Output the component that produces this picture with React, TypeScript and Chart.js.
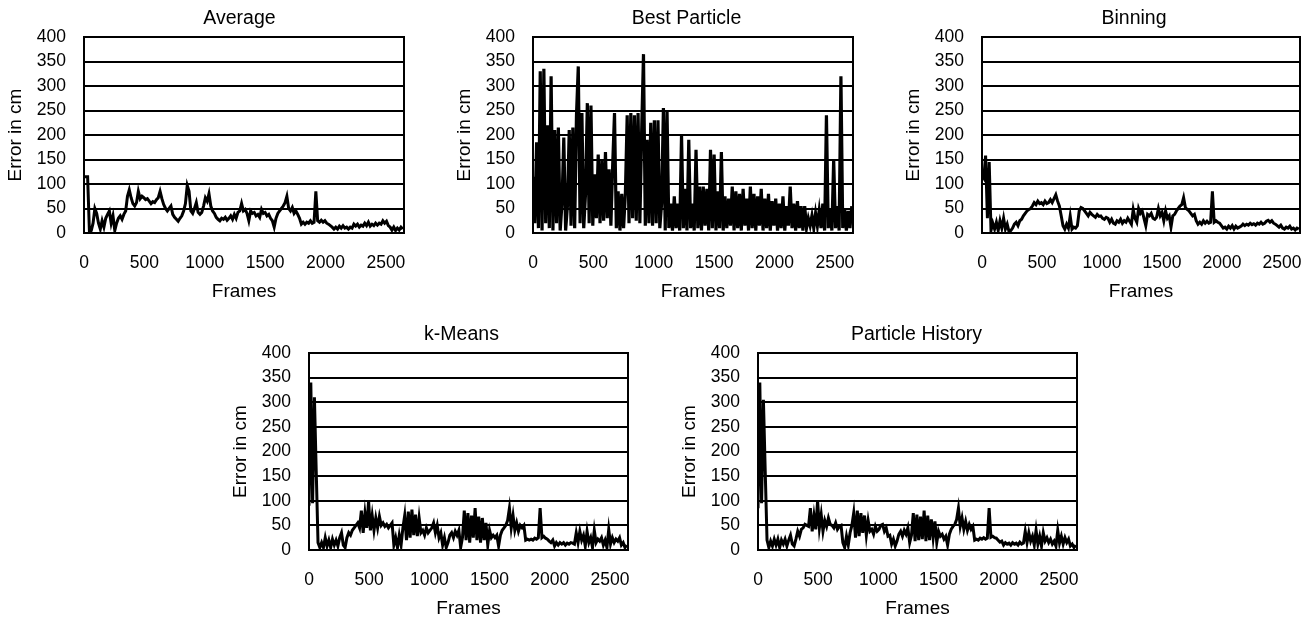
import React, { useEffect, useRef } from 'react';
import { Chart, registerables } from 'chart.js';

Chart.register(...registerables);

// ---- data ----
const FRAME_STEP = 15; // frames between samples
const X_MAX = 2650;
const Y_MAX = 400;
const X_TICKS = [0, 500, 1000, 1500, 2000, 2500];
const Y_TICKS = [0, 50, 100, 150, 200, 250, 300, 350, 400];
const X_LABEL = 'Frames';
const Y_LABEL = 'Error in cm';

const AVERAGE = [
  115, 115, 115, 2, 5, 20, 50, 40, 20, 8,
  25, 12, 30, 38, 45, 20, 35, 5, 20, 30,
  35, 28, 38, 45, 75, 88, 72, 60, 55, 62,
  85, 70, 75, 72, 68, 70, 65, 60, 64, 62,
  68, 72, 85, 70, 58, 50, 45, 50, 55, 38,
  32, 28, 24, 30, 35, 45, 60, 97, 85, 45,
  40, 50, 62, 42, 38, 42, 55, 72, 65, 80,
  55, 45, 40, 32, 28, 25, 30, 28, 32, 26,
  30, 35, 28, 38, 30, 42, 45, 60, 45, 48,
  40, 25, 45, 40, 42, 35, 38, 32, 48, 40,
  42, 35, 38, 30, 25, 12, 30, 40, 45, 50,
  55, 62, 75, 50, 45, 52, 40, 45, 38, 30,
  18, 22, 18, 22, 20, 25, 20, 22, 85, 25,
  22, 26, 22, 25, 20, 18, 15, 12, 8, 12,
  8, 14, 10, 15, 10, 12, 8, 12, 10, 18,
  14, 18, 12, 16, 14, 20, 15, 22, 14, 18,
  15, 20, 16, 20, 18, 25, 20, 24, 15, 12,
  6, 12, 5, 10, 6, 12, 8,
];

const BEST_PARTICLE = [
  115, 20, 185, 10, 330, 5, 335, 20, 220, 10,
  320, 5, 210, 20, 215, 5, 60, 195, 5, 55,
  210, 15, 215, 10, 240, 340, 20, 245, 10, 80,
  265, 20, 260, 15, 120, 30, 160, 20, 150, 25,
  165, 30, 130, 15, 140, 245, 10, 85, 5, 80,
  10, 80, 240, 20, 245, 30, 240, 25, 245, 20,
  210, 365, 15, 190, 20, 225, 15, 230, 20, 230,
  10, 60, 255, 5, 250, 10, 60, 5, 75, 10,
  60, 5, 200, 10, 90, 5, 190, 10, 60, 5,
  170, 10, 95, 5, 95, 15, 90, 5, 170, 10,
  160, 5, 85, 10, 165, 5, 75, 10, 70, 15,
  95, 5, 85, 10, 80, 5, 90, 15, 70, 5,
  95, 10, 80, 5, 75, 15, 90, 5, 70, 10,
  80, 5, 65, 15, 70, 5, 60, 10, 75, 5,
  55, 15, 95, 10, 60, 5, 65, 10, 55, 5,
  55, 10, 30, 15, 35, 10, 40, 15, 45, 10,
  60, 5, 240, 10, 50, 5, 150, 10, 55, 5,
  320, 10, 50, 5, 45, 10, 55,
];

const BINNING = [
  118, 112, 158, 30, 145, 5, 20, 8, 22, 5,
  25, 10, 30, 8, 18, 3, 5, 10, 18, 22,
  15, 25, 28, 35, 40, 45, 48, 50, 55, 62,
  58, 65, 60, 62, 58, 65, 60, 62, 68, 62,
  70, 78, 65, 55, 35, 15, 8, 18, 10, 35,
  8, 12, 10, 15, 45, 52, 50, 45, 40, 35,
  42, 38, 35, 32, 38, 34, 35, 30, 28, 32,
  30, 22, 28, 20, 18, 25, 22, 28, 20, 25,
  22, 30, 24, 18, 48, 30, 22, 50, 40, 45,
  30, 15, 38, 35, 40, 30, 28, 32, 50, 35,
  42, 25, 45, 30, 35, 12, 35, 38, 45, 50,
  55, 58, 72, 52, 48, 45, 40, 35, 38, 25,
  18, 22, 18, 25, 20, 24, 20, 22, 85, 22,
  25, 22, 20, 15, 10, 12, 8, 14, 10, 15,
  8, 14, 10, 12, 14, 18, 15, 18, 16, 20,
  17, 19, 16, 20, 18, 22, 18, 20, 24, 26,
  22, 25, 20, 18, 15, 12, 16, 10, 8, 12,
  10, 14, 8, 10, 6, 10, 8,
];

const K_MEANS = [
  90, 340, 95, 310, 160, 15, 5, 15, 5, 25,
  8, 20, 5, 22, 10, 20, 8, 25, 35, 10,
  5, 25, 35, 30, 40, 45, 50, 55, 45, 80,
  35, 75, 45, 100, 40, 70, 40, 65, 45, 68,
  50, 55, 48, 52, 45, 50, 55, 10, 25, 5,
  30, 10, 45, 70, 20, 78, 25, 82, 30, 72,
  28, 65, 35, 40, 30, 45, 35, 40, 45, 55,
  35, 50, 25, 35, 10, 25, 5, 15, 30, 35,
  25, 38, 30, 40, 5, 25, 80, 20, 75, 15,
  70, 25, 85, 20, 68, 15, 65, 20, 55, 10,
  40, 25, 30, 25, 30, 8, 30, 40, 45, 50,
  60, 85, 45, 70, 40, 55, 38, 50, 45, 50,
  20, 22, 20, 22, 20, 24, 22, 25, 85, 25,
  28, 24, 22, 18, 15, 20, 8, 15, 10, 15,
  12, 15, 10, 14, 12, 15, 14, 12, 35, 15,
  38, 20, 30, 8, 38, 15, 25, 5, 40, 15,
  22, 18, 25, 10, 20, 5, 42, 12, 25, 15,
  22, 18, 25, 10, 15, 5, 10,
];

const PARTICLE_HISTORY = [
  85, 340, 95, 305, 160, 20, 5, 18, 8, 22,
  10, 22, 5, 20, 12, 22, 8, 20, 30, 12,
  8, 22, 38, 28, 42, 45, 52, 50, 48, 85,
  38, 70, 42, 100, 45, 72, 38, 60, 48, 65,
  52, 50, 45, 55, 42, 48, 50, 15, 5, 28,
  10, 35, 50, 75, 25, 80, 28, 75, 35, 70,
  30, 60, 38, 42, 32, 48, 38, 42, 50, 52,
  38, 45, 28, 30, 12, 22, 8, 18, 32, 38,
  28, 40, 32, 45, 15, 30, 75, 18, 72, 20,
  68, 22, 80, 18, 70, 20, 62, 25, 58, 15,
  38, 28, 32, 22, 28, 10, 32, 42, 48, 52,
  62, 85, 48, 65, 42, 58, 40, 52, 42, 48,
  20, 22, 20, 24, 22, 25, 22, 24, 85, 26,
  28, 25, 24, 20, 16, 18, 10, 15, 12, 14,
  10, 15, 12, 14, 10, 16, 12, 14, 38, 15,
  35, 18, 28, 10, 40, 12, 28, 8, 35, 18,
  25, 15, 22, 12, 18, 8, 40, 14, 28, 12,
  25, 15, 22, 8, 12, 5, 10,
];

// ---- layout / style ----
const FONT = "'Liberation Sans', Arial, Helvetica, sans-serif";
const AXIS_W = 84;
const TOP_PAD = 37;
const RIGHT_PAD = 8;
const BOTTOM_H = 72;

type Panel = {
  title: string;
  values: number[];
  left: number;
  top: number;
  w: number;
  h: number;
  titleDx: number;
  lineWidth: number;
};

const PANELS: Panel[] = [
  { title: 'Average', values: AVERAGE, left: 84, top: 37, w: 320, h: 196, titleDx: -4.5, lineWidth: 3 },
  { title: 'Best Particle', values: BEST_PARTICLE, left: 533, top: 37, w: 320, h: 196, titleDx: -6.5, lineWidth: 3.2 },
  { title: 'Binning', values: BINNING, left: 982, top: 37, w: 318, h: 196, titleDx: -7, lineWidth: 3 },
  { title: 'k-Means', values: K_MEANS, left: 309, top: 353, w: 319, h: 197, titleDx: -7, lineWidth: 3 },
  { title: 'Particle History', values: PARTICLE_HISTORY, left: 758, top: 353, w: 319, h: 197, titleDx: -1, lineWidth: 3 },
];

const framePlugin = {
  id: 'panelFrame',
  afterDatasetsDraw(chart: any) {
    const { ctx, chartArea: a } = chart;
    ctx.save();
    ctx.strokeStyle = '#000';
    ctx.lineWidth = 2;
    ctx.strokeRect(a.left, a.top, a.right - a.left, a.bottom - a.top);
    ctx.restore();
  },
};

const titlePlugin = {
  id: 'panelTitle',
  afterDraw(chart: any, _args: any, opts: any) {
    const { ctx, chartArea: a } = chart;
    ctx.save();
    ctx.font = `19.5px ${FONT}`;
    ctx.fillStyle = '#000';
    ctx.textAlign = 'center';
    ctx.textBaseline = 'middle';
    ctx.fillText(opts.text, (a.left + a.right) / 2 + opts.dx, a.top - 18);
    ctx.restore();
  },
};

function PanelChart({ panel }: { panel: Panel }) {
  const ref = useRef<HTMLCanvasElement>(null);
  const cw = AXIS_W + panel.w + RIGHT_PAD;
  const ch = TOP_PAD + panel.h + BOTTOM_H;

  useEffect(() => {
    const canvas = ref.current;
    if (!canvas) return;
    const chart = new Chart(canvas, {
      type: 'line',
      data: {
        datasets: [
          {
            data: panel.values.map((v, i) => ({ x: i * FRAME_STEP, y: v })),
            borderColor: '#000',
            borderWidth: panel.lineWidth,
            borderJoinStyle: 'miter',
            pointRadius: 0,
            tension: 0,
            fill: false,
          },
        ],
      },
      options: {
        animation: false,
        responsive: false,
        devicePixelRatio: 1,
        layout: { padding: { top: TOP_PAD, right: RIGHT_PAD, left: 0, bottom: 0 } },
        plugins: {
          legend: { display: false },
          tooltip: { enabled: false },
          title: { display: false },
          panelTitle: { text: panel.title, dx: panel.titleDx },
        } as any,
        scales: {
          x: {
            type: 'linear',
            min: 0,
            max: X_MAX,
            grid: { display: false, drawTicks: true, tickLength: 20 },
            border: { display: false },
            afterBuildTicks: (s: any) => {
              s.ticks = X_TICKS.map((v) => ({ value: v }));
            },
            afterFit: (s: any) => {
              s.height = BOTTOM_H;
            },
            ticks: {
              padding: 0,
              maxRotation: 0,
              autoSkip: false,
              color: '#000',
              font: { size: 17.5, family: FONT },
              callback: (v: any) => String(v),
            },
            title: {
              display: true,
              text: X_LABEL,
              color: '#000',
              font: { size: 19, family: FONT },
              padding: { top: 0, bottom: 2 },
            },
          },
          y: {
            type: 'linear',
            min: 0,
            max: Y_MAX,
            grid: {
              color: '#000',
              lineWidth: 2,
              drawTicks: true,
              tickLength: 18,
              tickColor: 'rgba(0,0,0,0)',
            },
            border: { display: false },
            afterBuildTicks: (s: any) => {
              s.ticks = Y_TICKS.map((v) => ({ value: v }));
            },
            afterFit: (s: any) => {
              s.width = AXIS_W;
            },
            ticks: {
              padding: 0,
              color: '#000',
              font: { size: 17.5, family: FONT },
              callback: (v: any) => String(v),
            },
            title: {
              display: true,
              text: Y_LABEL,
              color: '#000',
              font: { size: 19, family: FONT },
              padding: { top: 4.5, bottom: 0 },
            },
          },
        },
      },
      plugins: [framePlugin, titlePlugin],
    } as any);
    return () => chart.destroy();
  }, [panel]);

  return (
    <canvas
      ref={ref}
      width={cw}
      height={ch}
      style={{
        position: 'absolute',
        left: panel.left - AXIS_W,
        top: panel.top - TOP_PAD,
        width: cw,
        height: ch,
      }}
    />
  );
}

export default function App() {
  return (
    <div
      style={{
        position: 'absolute',
        left: 0,
        top: 0,
        width: 1309,
        height: 619,
        background: '#fff',
        overflow: 'hidden',
      }}
    >
      {PANELS.map((p) => (
        <PanelChart key={p.title} panel={p} />
      ))}
    </div>
  );
}
